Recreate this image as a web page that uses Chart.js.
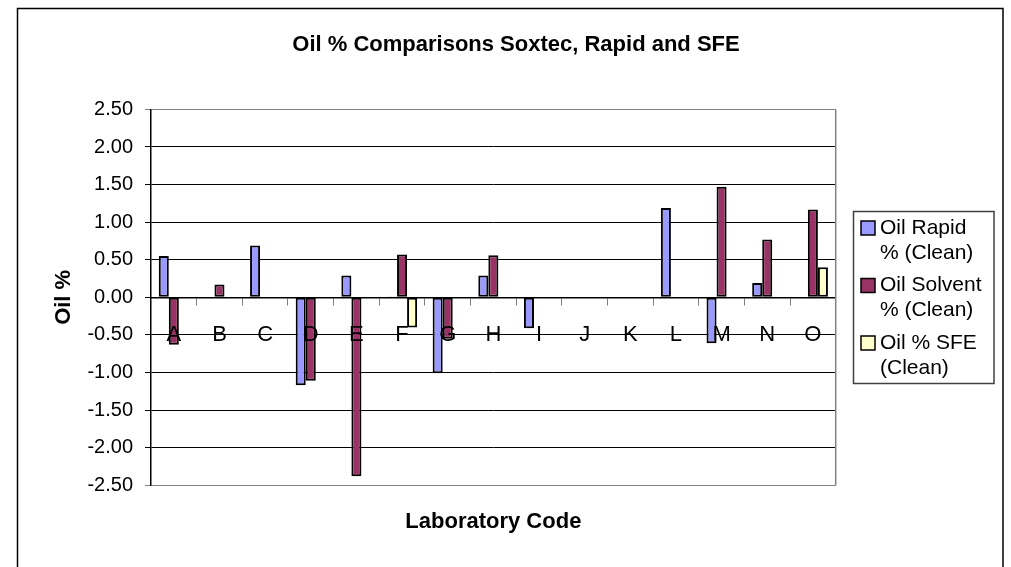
<!DOCTYPE html>
<html>
<head>
<meta charset="utf-8">
<title>Oil % Comparisons Soxtec, Rapid and SFE</title>
<script src="https://cdn.jsdelivr.net/npm/chart.js@4.4.0/dist/chart.umd.min.js"></script>
<style>
  html, body { margin: 0; padding: 0; background: #fff; }
  #wrap { width: 1011px; height: 567px; }
</style>
</head>
<body>
<div id="wrap"><canvas id="oilChart" width="1011" height="567"></canvas></div>
<script>
// laboratory codes on the category axis
const labCodes = ['A', 'B', 'C', 'D', 'E', 'F', 'G', 'H', 'I', 'J', 'K', 'L', 'M', 'N', 'O'];

// oil % differences (null = no bar)
const oilRapid   = [0.55, null, 0.69, -1.17, 0.29, 0.01, -1.01, 0.29, -0.41, null, null, 1.19, -0.61, 0.19, null];
const oilSolvent = [-0.63, 0.17, null, -1.11, -2.38, 0.57, -0.55, 0.56, null, null, null, null, 1.47, 0.77, 1.17];
const oilSfe     = [null, null, null, null, null, -0.40, null, null, null, null, null, null, null, null, 0.40];

const seriesNames = ['Oil Rapid % (Clean)', 'Oil Solvent % (Clean)', 'Oil % SFE (Clean)'];
const legendLines = [['Oil Rapid', '% (Clean)'], ['Oil Solvent', '% (Clean)'], ['Oil % SFE', '(Clean)']];

// value axis
const yMin = -2.5;
const yMax = 2.5;
const yStep = 0.5;

const FONT = "'Liberation Sans', Arial, sans-serif";

// white page + outer frame of the chart object
const framePlugin = {
  id: 'frame',
  beforeDraw(chart) {
    const ctx = chart.ctx;
    ctx.save();
    ctx.fillStyle = '#fff';
    ctx.fillRect(0, 0, chart.width, chart.height);
    ctx.strokeStyle = '#000';
    ctx.lineWidth = 1.5;
    ctx.strokeRect(17.5, 8.5, 985.5, 620);
    ctx.restore();
  }
};

// grey right edge of the plot area
const plotEdgePlugin = {
  id: 'plotEdge',
  beforeDatasetsDraw(chart) {
    const {ctx, chartArea} = chart;
    ctx.save();
    ctx.strokeStyle = '#808080';
    ctx.lineWidth = 1.5;
    ctx.beginPath();
    ctx.moveTo(chartArea.right, chartArea.top);
    ctx.lineTo(chartArea.right, chartArea.bottom);
    ctx.stroke();
    ctx.restore();
  }
};

// boxed legend with wrapped labels, like the spreadsheet one
const boxLegendPlugin = {
  id: 'boxLegend',
  afterDraw(chart) {
    const ctx = chart.ctx;
    const box = {x: 853.5, y: 211.5, w: 140.5, h: 172};
    ctx.save();
    ctx.strokeStyle = '#404040';
    ctx.lineWidth = 1.5;
    ctx.strokeRect(box.x, box.y, box.w, box.h);
    ctx.font = '21px ' + FONT;
    ctx.textBaseline = 'middle';
    ctx.textAlign = 'left';
    chart.data.datasets.forEach((ds, i) => {
      const top = box.y + 16.5 + i * 57.5;
      ctx.fillStyle = ds.backgroundColor;
      ctx.fillRect(861, top - 7, 14, 14);
      ctx.strokeStyle = '#000';
      ctx.lineWidth = 1.5;
      ctx.strokeRect(861, top - 7, 14, 14);
      ctx.fillStyle = '#000';
      legendLines[i].forEach((line, j) => {
        ctx.fillText(line, 880, top + j * 25);
      });
    });
    ctx.restore();
  }
};

const barStyle = {
  borderColor: '#000',
  borderWidth: 2,
  borderSkipped: false,
  barPercentage: 1,
  categoryPercentage: 0.66
};

new Chart(document.getElementById('oilChart'), {
  type: 'bar',
  data: {
    labels: labCodes,
    datasets: [
      Object.assign({label: seriesNames[0], data: oilRapid, backgroundColor: '#9999FF'}, barStyle),
      Object.assign({label: seriesNames[1], data: oilSolvent, backgroundColor: '#993366'}, barStyle),
      Object.assign({label: seriesNames[2], data: oilSfe, backgroundColor: '#FFFFCC'}, barStyle)
    ]
  },
  options: {
    responsive: false,
    animation: false,
    devicePixelRatio: 1,
    layout: { padding: { left: 21, right: 0, top: 0, bottom: 0 } },
    plugins: {
      legend: { display: false },
      tooltip: { enabled: false },
      title: {
        display: true,
        text: 'Oil % Comparisons Soxtec, Rapid and SFE',
        color: '#000',
        font: { family: FONT, size: 22, weight: 'bold' },
        padding: { top: 32, bottom: 51 }
      },
      subtitle: {
        display: true,
        position: 'bottom',
        fullSize: false,
        text: 'Laboratory Code',
        color: '#000',
        font: { family: FONT, size: 22, weight: 'bold' },
        padding: { top: 23.5, bottom: 31.8 }
      }
    },
    scales: {
      x: {
        position: { y: 0 },
        offset: true,
        grid: {
          offset: true,
          drawOnChartArea: false,
          drawTicks: true,
          tickLength: 7,
          color: '#808080'
        },
        border: { display: true, color: '#000', width: 1.5 },
        ticks: {
          z: 1,
          autoSkip: false,
          maxRotation: 0,
          padding: 17,
          color: '#000',
          font: { family: FONT, size: 22 }
        }
      },
      y: {
        min: yMin,
        max: yMax,
        ticks: {
          stepSize: yStep,
          padding: 12,
          color: '#000',
          font: { family: FONT, size: 20 },
          callback: v => Number(v).toFixed(2)
        },
        grid: {
          tickLength: 6,
          lineWidth: 1,
          color: c => (c.tick && Math.abs(c.tick.value) === yMax) ? '#808080' : '#000'
        },
        border: { display: true, color: '#000', width: 1.5 },
        title: {
          display: true,
          text: 'Oil %',
          color: '#000',
          font: { family: FONT, size: 22, weight: 'bold' },
          padding: { top: 30, bottom: 0 }
        },
        afterFit(scale) { scale.width = 130; }
      },
      yRight: {
        type: 'linear',
        position: 'right',
        display: true,
        grid: { display: false, drawTicks: false },
        border: { display: false },
        ticks: { display: false },
        afterFit(scale) { scale.width = 175.3; }
      }
    }
  },
  plugins: [framePlugin, plotEdgePlugin, boxLegendPlugin]
});
</script>
</body>
</html>
